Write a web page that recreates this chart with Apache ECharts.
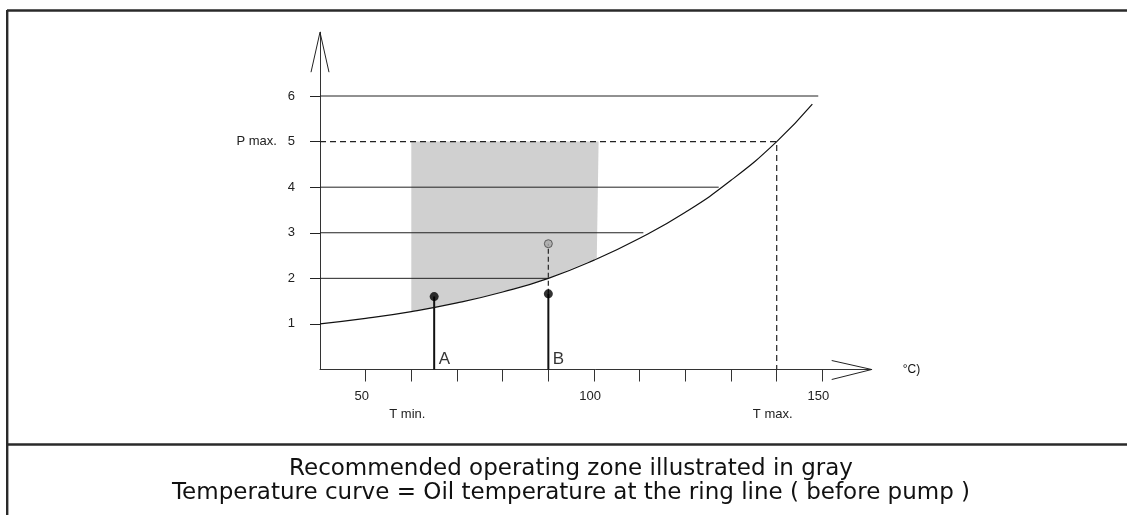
<!DOCTYPE html>
<html>
<head>
<meta charset="utf-8">
<script src="https://cdn.jsdelivr.net/npm/echarts@6/dist/echarts.min.js"></script>
<style>html,body{margin:0;padding:0;background:#fff}#c{width:1127px;height:515px}</style>
</head>
<body>
<div id="c"></div>
<script>
// ---- data ----
const xMin = 40, xMax = 160.8, yMin = 0, yMax = 7.4;
const tempTicks = [50, 60, 70, 80, 90, 100, 110, 120, 130, 140, 150];
const tempLabelValues = [50, 60, 100, 140, 150];
const tempLabelTexts = ['50', '\nT min.', '100', '\nT max.', '150'];
const pressureTicks = [1, 2, 3, 4, 5, 6];
const pressureLabels = ['1', '2', '3', '4', 'P max.   5', '6'];

// temperature curve (oil temperature at ring line)
const curveT = [40, 50, 60, 70, 80, 90, 100, 110, 120, 130, 140, 147.8];
const curveP = [1.0, 1.12, 1.27, 1.46, 1.70, 2.0, 2.40, 2.88, 3.45, 4.15, 5.0, 5.82];

// horizontal reference lines (pressure, end temperature)
const refLineP = [6, 4, 3, 2];
const refLineEndT = [149.1, 127.3, 110.8, 90];

// P max / T max dashed guide
const pMax = 5, tMax = 140;

// recommended operating zone (gray)
const zoneTopP = 5, zoneLeftT = 60, zoneRightT = 101;
const zoneBottomT = [100.6, 90, 80, 70, 60];
const zoneBottomP = [2.44, 2.0, 1.70, 1.46, 1.27];

// operating points
const pointNames = ['A', 'B'];
const pointT = [65, 90];
const pointP = [1.6, 1.66];
const bTargetP = 2.76;

// bottom caption
const captionLines = ['Recommended operating zone illustrated in gray',
  'Temperature curve = Oil temperature at the ring line ( before pump )'];

// ---- chart ----
const chart = echarts.init(document.getElementById('c'), null, {renderer: 'canvas'});
const FONT = '"Liberation Sans", Arial, Helvetica, sans-serif';
const LINE = '#222';

const series = [];

// gray zone polygon
const zonePts = [[zoneLeftT, zoneTopP], [zoneRightT, zoneTopP]];
zoneBottomT.forEach((t, i) => zonePts.push([t, zoneBottomP[i]]));
series.push({
  type: 'custom', silent: true, z: 1,
  data: [0],
  renderItem: function (params, api) {
    return {
      type: 'polygon',
      shape: {points: zonePts.map(p => api.coord(p)), smooth: 0},
      style: {fill: '#d0d0d0'}
    };
  }
});

// horizontal reference lines
refLineP.forEach((p, i) => {
  series.push({
    type: 'line', silent: true, symbol: 'none', z: 3,
    data: [[xMin, p], [refLineEndT[i], p]],
    lineStyle: {color: LINE, width: 1}
  });
});

// P max / T max dashed
series.push({
  type: 'line', silent: true, symbol: 'none', z: 3,
  data: [[xMin, pMax], [tMax, pMax], [tMax, 0]],
  lineStyle: {color: LINE, width: 1.2, type: [6, 4]}
});

// curve
series.push({
  type: 'line', silent: true, symbol: 'none', smooth: true, z: 4,
  data: curveT.map((t, i) => [t, curveP[i]]),
  lineStyle: {color: '#111', width: 1.2}
});

// stems
pointT.forEach((t, i) => {
  series.push({
    type: 'line', silent: true, symbol: 'none', z: 5,
    data: [[t, 0], [t, pointP[i]]],
    lineStyle: {color: '#111', width: 2}
  });
});

// B dashed to target
series.push({
  type: 'line', silent: true, symbol: 'none', z: 5,
  data: [[pointT[1], pointP[1]], [pointT[1], bTargetP]],
  lineStyle: {color: '#333', width: 1.3, type: [5, 3]}
});

// dots
series.push({
  type: 'scatter', silent: true, z: 6, symbolSize: 9,
  data: pointT.map((t, i) => [t, pointP[i]]),
  itemStyle: {color: '#000'}
});
series.push({
  type: 'scatter', silent: true, z: 6, symbolSize: 8,
  data: [[pointT[1], bTargetP]],
  itemStyle: {color: '#a8a8a8', borderColor: '#444', borderWidth: 1}
});

// A / B labels
series.push({
  type: 'scatter', silent: true, z: 6, symbolSize: 1,
  data: pointT.map((t, i) => ({name: pointNames[i], value: [t, 0]})),
  itemStyle: {color: 'transparent'},
  label: {
    show: true, position: 'right', distance: 4, offset: [0, -10],
    formatter: p => p.name, color: '#000', fontSize: 17, fontFamily: FONT
  }
});

// axis arrows (open chevrons)
series.push({
  type: 'custom', silent: true, z: 7, clip: false,
  data: [[xMax, 0, 0], [xMin, yMax, 1]],
  renderItem: function (params, api) {
    const p = api.coord([api.value(0), api.value(1)]);
    const pts = api.value(2) === 0
      ? [[p[0] - 40, p[1] - 9], [p[0], p[1]], [p[0] - 40, p[1] + 10]]
      : [[p[0] - 9, p[1] + 40], [p[0], p[1]], [p[0] + 9, p[1] + 40]];
    return {type: 'polyline', shape: {points: pts}, style: {stroke: '#222', lineWidth: 1, fill: null}};
  }
});

const option = {
  animation: false,
  backgroundColor: '#fff',
  grid: {left: 320, top: 32.2, right: 255.3, bottom: 145.5, containLabel: false, outerBoundsMode: 'none'},
  xAxis: {
    type: 'value', min: xMin, max: xMax,
    name: '°C)', nameLocation: 'end', nameGap: 31,
    nameTextStyle: {color: '#111', fontSize: 12, fontFamily: FONT, align: 'left', verticalAlign: 'middle', padding: [4, 0, 0, 0]},
    axisLine: {show: true, onZero: false, lineStyle: {color: '#333', width: 1}},
    axisTick: {show: true, inside: false, length: 12, customValues: tempTicks, lineStyle: {color: '#333', width: 1}},
    axisLabel: {
      show: true, customValues: tempLabelValues, margin: 18, lineHeight: 18,
      padding: [0, 8, 0, 0],
      color: '#222', fontSize: 13, fontFamily: FONT,
      formatter: v => tempLabelTexts[tempLabelValues.indexOf(v)]
    },
    splitLine: {show: false}
  },
  yAxis: {
    type: 'value', min: yMin, max: yMax,
    axisLine: {show: true, onZero: false, lineStyle: {color: '#333', width: 1}},
    axisTick: {show: true, inside: false, length: 10, customValues: pressureTicks, lineStyle: {color: LINE, width: 1}},
    axisLabel: {
      show: true, customValues: pressureTicks, margin: 25,
      color: '#222', fontSize: 13, fontFamily: FONT,
      formatter: v => pressureLabels[pressureTicks.indexOf(v)]
    },
    splitLine: {show: false}
  },
  graphic: [
    {type: 'line', silent: true, shape: {x1: 7, y1: 10.5, x2: 1127, y2: 10.5}, style: {stroke: '#2a2a2a', lineWidth: 2.5}},
    {type: 'line', silent: true, shape: {x1: 7.2, y1: 10, x2: 7.2, y2: 515}, style: {stroke: '#2a2a2a', lineWidth: 2.4}},
    {type: 'line', silent: true, shape: {x1: 7, y1: 444.5, x2: 1127, y2: 444.5}, style: {stroke: '#2a2a2a', lineWidth: 2.5}},
    {type: 'text', silent: true, x: 571, y: 469, style: {text: captionLines[0], align: 'center', verticalAlign: 'middle', fill: '#111', font: '23px "DejaVu Sans", sans-serif'}},
    {type: 'text', silent: true, x: 571, y: 493, style: {text: captionLines[1], align: 'center', verticalAlign: 'middle', fill: '#111', font: '23px "DejaVu Sans", sans-serif'}}
  ],
  series: series
};
chart.setOption(option);
</script>
</body>
</html>
